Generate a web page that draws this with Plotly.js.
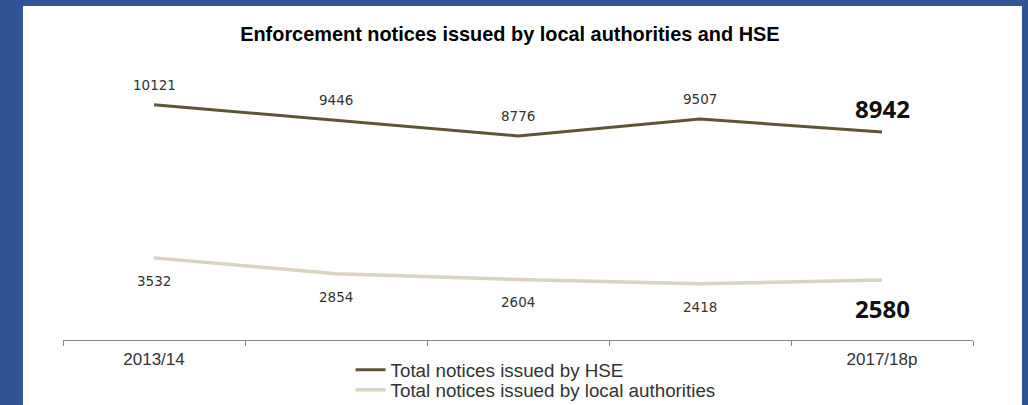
<!DOCTYPE html>
<html>
<head>
<meta charset="utf-8">
<script src="https://cdn.plot.ly/plotly-3.0.1.min.js"></script>
<style>html,body{margin:0;padding:0;background:#2F5597;}#chart{width:1028px;height:405px;}</style>
</head>
<body>
<div id="chart"></div>
<script>
const years = ['2013/14', '2014/15', '2015/16', '2016/17', '2017/18p'];
const tickLabels = ['2013/14', '', '', '', '2017/18p'];
const hseNotices = [10121, 9446, 8776, 9507, 8942];
const laNotices = [3532, 2854, 2604, 2418, 2580];
const seriesNames = ['Total notices issued by HSE', 'Total notices issued by local authorities'];

const hseColor = '#5E5437';
const laColor = '#DAD3C1';

const traces = [
  {x: years, y: hseNotices, name: seriesNames[0], type: 'scatter', mode: 'lines',
   line: {color: hseColor, width: 3}, legend: 'legend'},
  {x: years, y: laNotices, name: seriesNames[1], type: 'scatter', mode: 'lines',
   line: {color: laColor, width: 3.5}, legend: 'legend2'}
];

const last = years.length - 1;
const annotations = [];
function addLabels(vals, above) {
  vals.forEach((v, i) => {
    const big = i === last;
    annotations.push({
      x: years[i], y: v, xref: 'x', yref: 'y', text: String(v), showarrow: false,
      yshift: above ? (big ? 24 : 20) : (big ? -28 : -23),
      font: big ? {family: 'Open Sans, Liberation Sans, sans-serif', size: 24, color: '#111', weight: 'bold'}
                : {family: 'DejaVu Sans, sans-serif', size: 13.5, color: '#333'}
    });
  });
}
addLabels(hseNotices, true);
addLabels(laNotices, false);

const legendFont = {family: 'Liberation Sans, Arial, sans-serif', size: 18.8, color: '#333'};
const legendBase = {xanchor: 'left', yanchor: 'middle', bgcolor: 'rgba(0,0,0,0)', font: legendFont,
  itemwidth: 30, borderwidth: 0};

const layout = {
  width: 1028, height: 405,
  paper_bgcolor: '#2F5597', plot_bgcolor: 'rgba(0,0,0,0)',
  margin: {l: 63, r: 55, t: 61, b: 65, autoexpand: false},
  title: {text: 'Enforcement notices issued by local authorities and HSE',
    font: {family: 'Liberation Sans, Arial, sans-serif', size: 19.9, color: '#000', weight: 'bold'},
    x: 0.496, xanchor: 'center', y: 0.917, yanchor: 'middle'},
  xaxis: {type: 'category', tickson: 'boundaries', tickvals: years, ticktext: tickLabels,
    ticks: 'outside', ticklen: 5, tickcolor: '#888', showline: true, linecolor: '#888', linewidth: 1,
    showgrid: false, zeroline: false, range: [-0.5, 4.5], ticklabelstandoff: 4,
    tickfont: {family: 'Liberation Sans, Arial, sans-serif', size: 17, color: '#333'}},
  yaxis: {range: [0, 12000], visible: false, showgrid: false, zeroline: false},
  showlegend: true,
  legend: Object.assign({x: 0.316, y: (340 - 370) / 279}, legendBase),
  legend2: Object.assign({x: 0.316, y: (340 - 390) / 279}, legendBase),
  shapes: [{type: 'rect', xref: 'paper', yref: 'paper', x0: -0.044, x1: 1.0538, y0: -0.4, y1: 1.197,
    fillcolor: '#FFFFFF', line: {width: 0}, layer: 'below'}],
  annotations: annotations
};

Plotly.newPlot('chart', traces, layout, {displayModeBar: false, staticPlot: true});
</script>
</body>
</html>
